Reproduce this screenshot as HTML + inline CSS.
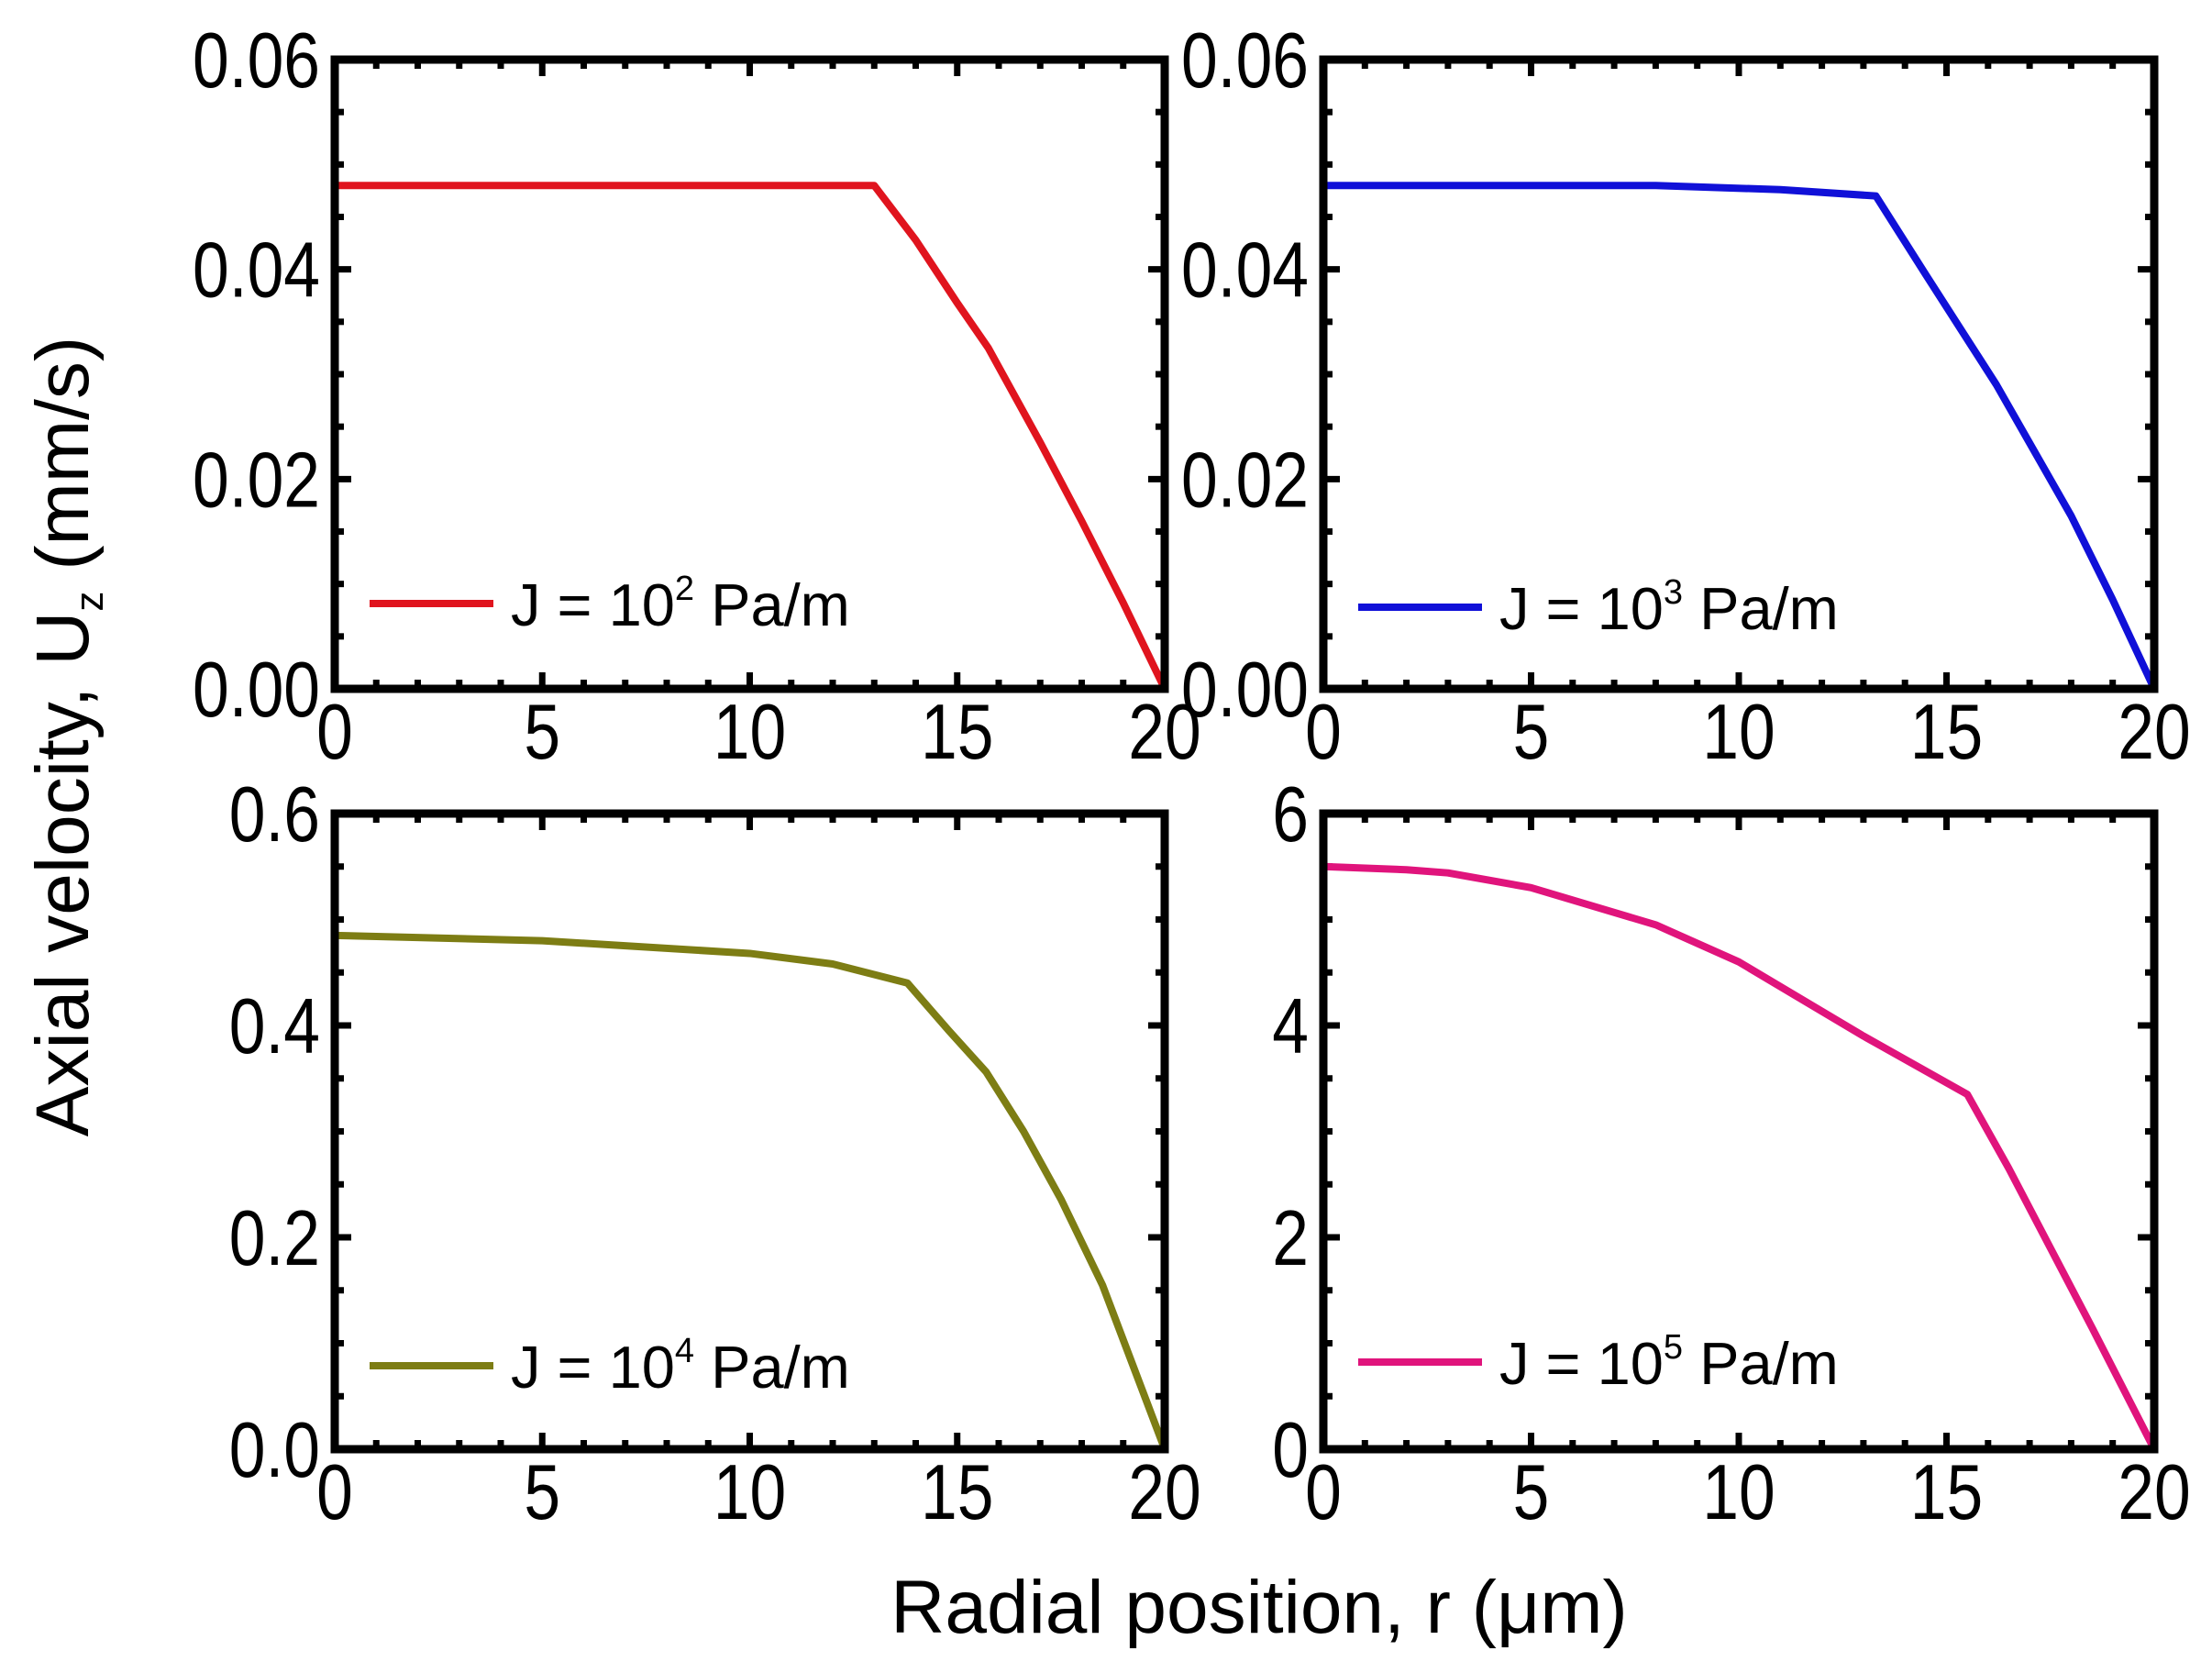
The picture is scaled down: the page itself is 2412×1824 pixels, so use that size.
<!DOCTYPE html>
<html><head><meta charset="utf-8"><style>
html,body{margin:0;padding:0;background:#fff;}
svg{display:block;font-family:"Liberation Sans",sans-serif;}
</style></head><body>
<svg id="fig" width="2412" height="1824" viewBox="0 0 2412 1824">
<text x="0" y="0" font-size="82" text-anchor="middle" transform="translate(96,803) rotate(-90)">Axial velocity, U<tspan font-size="44" dy="16">z</tspan><tspan dy="-16"> (mm/s)</tspan></text>
<text x="1373" y="1780" font-size="82" text-anchor="middle">Radial position, r (μm)</text>
</svg>
<script>
const xTicks = [0,5,10,15,20];
const r1 = [0,5,10,13,14,15,15.75,17,18,19,20];
const v1 = [0.048,0.048,0.048,0.048,0.0428,0.0368,0.0325,0.0235,0.016,0.0082,0];
const r2 = [0,5,8,11,13.3,14.5,16.2,18,19,20];
const v2 = [0.048,0.048,0.048,0.0476,0.047,0.0395,0.029,0.0165,0.0085,0];
const r3 = [0,5,10,12,13.8,14.8,15.7,16.6,17.5,18.5,20];
const v3 = [0.485,0.48,0.468,0.458,0.44,0.395,0.356,0.3,0.236,0.155,0];
const r4 = [0,2,3,5,8,10,13,15.5,16.5,17.5,18.5,20];
const v4 = [5.5,5.47,5.44,5.3,4.95,4.6,3.9,3.35,2.65,1.9,1.15,0];
const yTicks1 = ["0.00","0.02","0.04","0.06"];
const yTicks3 = ["0.0","0.2","0.4","0.6"];
const yTicks4 = ["0","2","4","6"];
const labels = ["2","3","4","5"];

const NS="http://www.w3.org/2000/svg";
const svg=document.getElementById('fig');
function mk(tag,attrs,parent){const e=document.createElementNS(NS,tag);for(const k in attrs)e.setAttribute(k,attrs[k]);(parent||svg).appendChild(e);return e;}

const panels=[
 {x0:365,x1:1270,y0:65,y1:751,ymax:0.06,yt:yTicks1,yMinor:0.005,r:r1,v:v1,color:"#e0141e",lab:labels[0],ly:658},
 {x0:1443,x1:2349,y0:65,y1:751,ymax:0.06,yt:yTicks1,yMinor:0.005,r:r2,v:v2,color:"#1010d8",lab:labels[1],ly:662},
 {x0:365,x1:1270,y0:887,y1:1580,ymax:0.6,yt:yTicks3,yMinor:0.05,r:r3,v:v3,color:"#7d7d14",lab:labels[2],ly:1489},
 {x0:1443,x1:2349,y0:887,y1:1580,ymax:6,yt:yTicks4,yMinor:0.5,r:r4,v:v4,color:"#e0147c",lab:labels[3],ly:1485}
];
panels.forEach((p,i)=>{
 const g=mk('g',{});
 
 
 const sx=r=>p.x0+(r/20)*(p.x1-p.x0);
 const sy=v=>p.y1-(v/p.ymax)*(p.y1-p.y0);
 for(let k=0;k<=20;k++){
  const L=(k%5===0)?18:10;const x=sx(k);
  const t1=mk('line',{x1:x,y1:p.y1,x2:x,y2:p.y1-L,stroke:'#000','stroke-width':7},g);
  
  
  const t2=mk('line',{x1:x,y1:p.y0,x2:x,y2:p.y0+L,stroke:'#000','stroke-width':7},g);
  
  
 }
 const n=Math.round(p.ymax/p.yMinor);
 for(let k=0;k<=n;k++){
  const v=k*p.yMinor;const y=sy(v);const L=(k%4===0)?18:10;
  const t1=mk('line',{x1:p.x0,y1:y,x2:p.x0+L,y2:y,stroke:'#000','stroke-width':7},g);
  
  
  const t2=mk('line',{x1:p.x1,y1:y,x2:p.x1-L,y2:y,stroke:'#000','stroke-width':7},g);
  
  
 }
 xTicks.forEach(t=>{
  const tx=mk('text',{x:0,y:0,'font-size':85,'text-anchor':'middle',transform:'translate('+sx(t)+','+(p.y1+76)+') scale(0.84,1)'},g);
  
  
  tx.textContent=t;
 });
 p.yt.forEach((t,k)=>{
  const v=k*p.ymax/3;
  const tx=mk('text',{x:0,y:0,'font-size':85,'text-anchor':'end',transform:'translate('+(p.x0-16)+','+(sy(v)+30)+') scale(0.84,1)'},g);
  
  
  tx.textContent=t;
 });
 const pts=p.r.map((r,k)=>sx(r)+','+sy(p.v[k])).join(' ');
 const line=mk('polyline',{points:pts,fill:'none',stroke:p.color,'stroke-width':8,'stroke-linejoin':'round'},g);
 
 
 const frame=mk('rect',{x:p.x0,y:p.y0,width:p.x1-p.x0,height:p.y1-p.y0,fill:'none',stroke:'#000','stroke-width':9},g);
 
 
 const lg=mk('g',{},g);
 
 
 mk('line',{x1:p.x0+38,y1:p.ly,x2:p.x0+173,y2:p.ly,stroke:p.color,'stroke-width':8},lg);
 const lt=mk('text',{x:p.x0+192,y:p.ly+24,'font-size':65},lg);
 lt.innerHTML='J = 10<tspan font-size="38" dy="-28">'+p.lab+'</tspan><tspan dy="28"> Pa/m</tspan>';
});
</script>
</body></html>
